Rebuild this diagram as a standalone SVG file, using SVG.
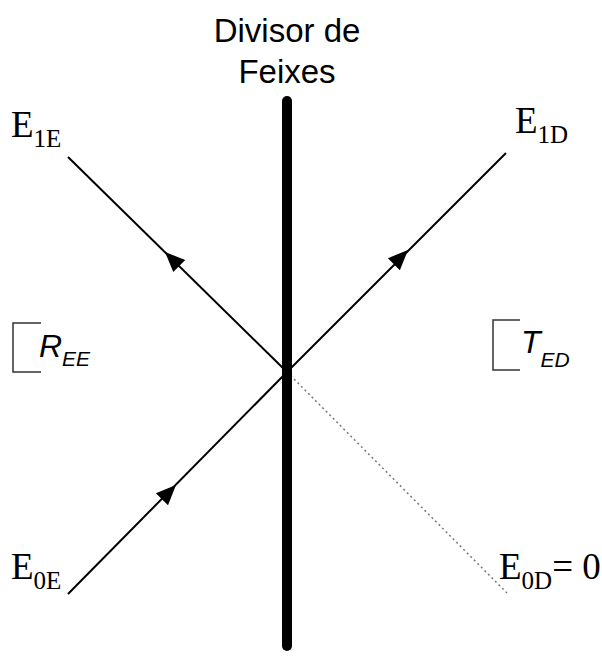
<svg xmlns="http://www.w3.org/2000/svg" width="602" height="657" viewBox="0 0 602 657">
<style>
.ttl{font-family:"Liberation Sans",Arial,sans-serif;font-size:33px;fill:#000;text-anchor:middle}
.e{font-family:"Liberation Serif","Times New Roman",serif;font-size:37px;fill:#000}
.es{font-size:25px}
.r{font-family:"Liberation Sans",Arial,sans-serif;font-style:italic;font-size:32px;fill:#000}
.rs{font-size:21px}
.ray{stroke:#000;stroke-width:2;fill:none}
.br{stroke:#333;stroke-width:1.5;fill:none}
</style>
<defs>
<path id="ah" d="M0,0 L-20,-8.5 L-20,8.5 Z" fill="#000"/>
</defs>
<rect width="602" height="657" fill="#fff"/>
<g id="title">
<text class="ttl" x="287" y="42">Divisor de</text>
<text class="ttl" x="287" y="83">Feixes</text>
</g>
<g id="connectors">
<line class="ray" x1="287" y1="372" x2="68" y2="157"/>
<line class="ray" x1="287" y1="372" x2="506" y2="153"/>
<line class="ray" x1="68" y1="594" x2="287" y2="372"/>
<line x1="287" y1="372" x2="507" y2="593" stroke="#777" stroke-width="1.5" stroke-dasharray="2,3"/>
<use href="#ah" transform="translate(165,252) rotate(-135.5)"/>
<use href="#ah" transform="translate(408,250) rotate(-45)"/>
<use href="#ah" transform="translate(176,485) rotate(-45.4)"/>
</g>
<g id="divisor">
<line x1="287" y1="101" x2="287" y2="646" stroke="#000" stroke-width="10" stroke-linecap="round"/>
</g>
<g id="E1E"><text class="e" x="11" y="137">E<tspan class="es" dy="10">1E</tspan></text></g>
<g id="E1D"><text class="e" x="515" y="133">E<tspan class="es" dy="10">1D</tspan></text></g>
<g id="E0E"><text class="e" x="11" y="579">E<tspan class="es" dy="10">0E</tspan></text></g>
<g id="E0D"><text class="e" x="499" y="579">E<tspan class="es" dy="10">0D</tspan><tspan dy="-10">= 0</tspan></text></g>
<g id="REE">
<path class="br" d="M41,323 L13,323 L13,372 L41,372"/>
<text class="r" x="39" y="357">R<tspan class="rs" dy="9">EE</tspan></text>
</g>
<g id="TED">
<path class="br" d="M520,320 L493,320 L493,370 L520,370"/>
<text class="r" x="521" y="353">T<tspan class="rs" dy="14">ED</tspan></text>
</g>
</svg>
